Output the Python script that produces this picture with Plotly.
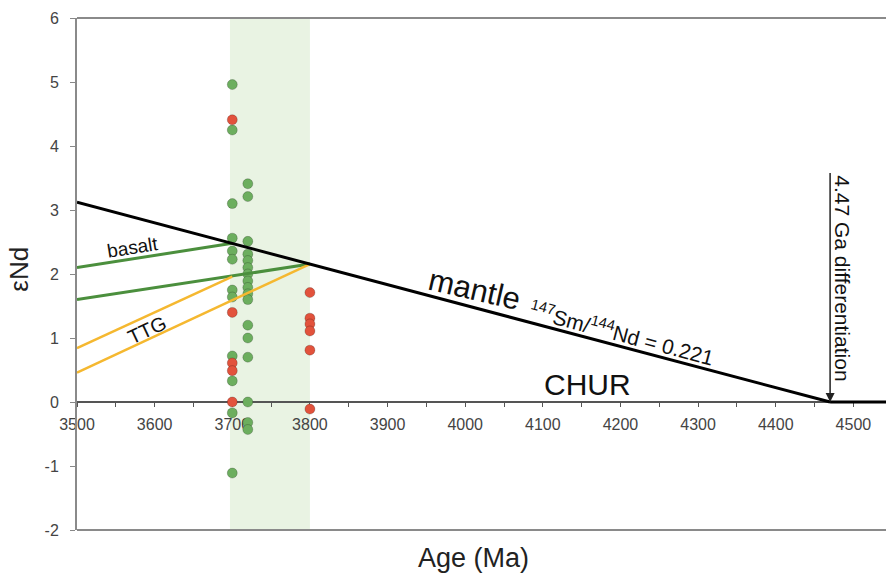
import plotly.graph_objects as go

# ---- data ----
x_3700 = 3700
x_3720 = 3720
x_3800 = 3800
green_3700 = [4.96, 4.25, 3.10, 2.56, 2.36, 2.23, 1.75, 1.64, 0.72, 0.33, -0.17, -1.11]
red_3700 = [4.41, 1.40, 0.61, 0.49, 0.0]
green_3720 = [3.41, 3.21, 2.51, 2.31, 2.21, 2.10, 2.00, 1.89, 1.79, 1.69, 1.60, 1.20, 1.00, 0.70, 0.0, -0.32, -0.43]
red_3800 = [1.71, 1.31, 1.22, 1.11, 0.81, -0.11]

mantle_x = [3500, 4470]
mantle_y = [3.12, 0.0]
chur_x = [4470, 4560]
chur_y = [0.0, 0.0]
basalt_upper_x = [3500, 3700]
basalt_upper_y = [2.10, 2.48]
basalt_lower_x = [3500, 3800]
basalt_lower_y = [1.60, 2.155]
ttg_upper_x = [3500, 3700]
ttg_upper_y = [0.84, 1.96]
ttg_lower_x = [3500, 3800]
ttg_lower_y = [0.46, 2.155]

band = [3697, 3800]
x_ticks = [3500, 3600, 3700, 3800, 3900, 4000, 4100, 4200, 4300, 4400, 4500]
y_ticks = [-2, -1, 0, 1, 2, 3, 4, 5, 6]
y_ticklabels = ["-2", "-1", "0", "1", "2", "3", "4", "5", "6"]

GREEN_PT = "#6cae5e"
RED_PT = "#e2523c"
FONT = "Arial, Liberation Sans, sans-serif"

fig = go.Figure()

def pts(x, ys, color):
    fig.add_trace(go.Scatter(
        x=[x] * len(ys), y=ys, mode="markers",
        marker=dict(size=10, color=color, line=dict(width=0.8, color="rgba(0,0,0,0.25)")),
        hoverinfo="skip", showlegend=False))

pts(x_3700, green_3700, GREEN_PT)
pts(x_3700, red_3700, RED_PT)
pts(x_3720, green_3720, GREEN_PT)
pts(x_3800, red_3800, RED_PT)

def line(x, y, color, w):
    fig.add_trace(go.Scatter(x=x, y=y, mode="lines", line=dict(color=color, width=w),
                             hoverinfo="skip", showlegend=False))

line(basalt_upper_x, basalt_upper_y, "#4b8f3d", 3)
line(basalt_lower_x, basalt_lower_y, "#4b8f3d", 3)
line(ttg_upper_x, ttg_upper_y, "#f5b830", 2.5)
line(ttg_lower_x, ttg_lower_y, "#f5b830", 2.5)
line(mantle_x, mantle_y, "#000000", 3)
line(chur_x, chur_y, "#000000", 3)

fig.add_shape(type="rect", x0=band[0], x1=band[1], y0=0, y1=1, xref="x", yref="paper",
              fillcolor="#e9f3e3", line=dict(width=0), layer="below")
for yy in (0, 1):
    fig.add_shape(type="line", x0=0, x1=1, y0=yy, y1=yy, xref="paper", yref="paper",
                  line=dict(color="#8a8a8a", width=2))

ann = []
def txt(x, y, s, size, angle=0):
    ann.append(dict(x=x, y=y, xref="x", yref="y", text=s, showarrow=False,
                    textangle=angle, font=dict(family=FONT, size=size, color="#111")))

txt(3571, 2.41, "basalt", 19, -9)
txt(3590, 1.13, "TTG", 20, -25)
txt(4012, 1.76, "mantle", 31, 13)
txt(4202, 1.08, "<sup>147</sup>Sm/<sup>144</sup>Nd = 0.221", 21, 14.8)
txt(4157, 0.27, "CHUR", 30, 0)
txt(4486, 1.94, "4.47 Ga differentiation", 21, 90)

ann.append(dict(x=4470, y=0, ax=4470, ay=3.6, xref="x", yref="y", axref="x", ayref="y",
                text="", showarrow=True, arrowhead=2, arrowsize=1.2, arrowwidth=1.5,
                arrowcolor="#222"))
ann.append(dict(x=0.49, y=-0.054, xref="paper", yref="paper", text="Age (Ma)", showarrow=False,
                xanchor="center", yanchor="middle", font=dict(family=FONT, size=27, color="#222")))
ann.append(dict(x=-0.072, y=0.51, xref="paper", yref="paper", text="εNd", showarrow=False,
                xanchor="center", yanchor="middle",
                textangle=-90, font=dict(family=FONT, size=26, color="#222")))

fig.update_layout(
    width=886, height=575,
    margin=dict(l=77, r=0, t=18, b=45),
    plot_bgcolor="white", paper_bgcolor="white",
    annotations=ann,
    xaxis=dict(range=[3500, 4542], anchor="free", position=0.25,
               tickvals=x_ticks, ticks="outside", ticklen=4, tickcolor="#555",
               showline=True, linecolor="#555", linewidth=1.5, ticklabelstandoff=4,
               showgrid=False, zeroline=False, layer="below traces",
               tickfont=dict(family=FONT, size=16, color="#444"),
               minor=dict(dtick=50, ticks="outside", ticklen=4, tickcolor="#555")),
    yaxis=dict(range=[-2, 6], tickvals=y_ticks, ticktext=y_ticklabels,
               ticks="outside", ticklen=5, tickcolor="#888",
               showline=True, linecolor="#8a8a8a", linewidth=2,
               showgrid=False, zeroline=False, ticklabelstandoff=8,
               tickfont=dict(family=FONT, size=16, color="#444")),
)

fig.write_html("out.html")
